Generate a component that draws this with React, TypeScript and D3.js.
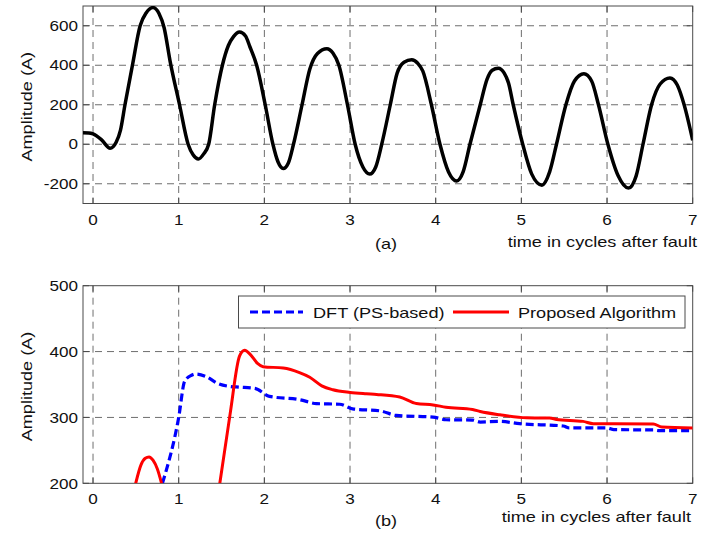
import React from "react";
import * as d3 from "d3";

// ---------- data ----------
const X_TICKS = [0, 1, 2, 3, 4, 5, 6, 7];
const TOP_Y_TICKS = [-200, 0, 200, 400, 600];
const BOT_Y_TICKS = [200, 300, 400, 500];
const X_DOMAIN = [-0.117, 7];
const TOP_Y_DOMAIN = [-300, 700];
const BOT_Y_DOMAIN = [200, 500];

// (a) instantaneous fault current
const WAVE_T = [
  -0.117, -0.05, 0, 0.1, 0.2, 0.27, 0.32, 0.373, 0.46, 0.55, 0.62, 0.7, 0.77, 0.83, 0.9, 1.01,
  1.11, 1.17, 1.23, 1.29, 1.35, 1.42, 1.51, 1.58, 1.64, 1.71, 1.78, 1.83, 1.91, 2.01,
  2.1, 2.16, 2.22, 2.28, 2.34, 2.44, 2.53, 2.62, 2.73, 2.8, 2.87, 2.97,
  3.06, 3.15, 3.23, 3.3, 3.37, 3.47, 3.55, 3.63, 3.72, 3.79, 3.85, 3.95,
  4.05, 4.15, 4.245, 4.32, 4.4, 4.52, 4.6, 4.66, 4.73, 4.8, 4.85, 4.905,
  5.016, 5.12, 5.24, 5.33, 5.41, 5.52, 5.62, 5.73, 5.82, 5.9,
  6.01, 6.13, 6.25, 6.34, 6.42, 6.52, 6.62, 6.735, 6.82, 6.9, 7.0,
];
const WAVE_A = [
  58, 57, 52, 22, -20, 10, 70, 200, 400, 600, 665, 692, 662, 590, 420, 200,
  0, -55, -75, -50, 0, 200, 400, 500, 545, 568, 548, 495, 400, 200,
  0, -90, -123, -95, 0, 200, 380, 460, 484, 462, 400, 200,
  0, -115, -151, -115, 0, 200, 360, 415, 428, 410, 370, 200,
  0, -140, -186, -140, 0, 200, 330, 375, 385, 360, 310, 200,
  0, -150, -207, -140, 0, 200, 320, 357, 320, 200,
  0, -160, -222, -160, 0, 200, 305, 336, 300, 200, 20,
];

// (b) estimated amplitude
const DFT_T = [
  0.81, 1.0, 1.07, 1.15, 1.2, 1.32, 1.45, 1.6, 1.71, 1.89, 2.06, 2.41, 2.61, 2.88, 3.03,
  3.35, 3.54, 3.97, 4.12, 4.43, 4.52, 4.75, 4.98, 5.49, 5.56, 6.0, 6.08, 6.54, 6.6, 7.0,
];
const DFT_A = [
  200, 300, 355, 364, 366, 362, 352, 347, 346, 344, 332, 327, 321, 320, 313,
  310, 303, 300.5, 296.5, 296, 293, 294, 290.5, 287, 284, 284, 281.5, 281, 280, 280,
];

const PROP_T = [
  0.498, 0.56, 0.61, 0.654, 0.7, 0.75, 0.8, null,
  1.48, 1.6, 1.71, 1.77, 1.84, 1.92, 1.985, 2.22, 2.41, 2.53, 2.67, 2.8, 3.0, 3.19, 3.31,
  3.58, 3.775, 3.97, 4.12, 4.43, 4.52, 4.75, 5.06, 5.33, 5.41, 5.72, 5.84, 6.54, 6.64, 7.0,
];
const PROP_A = [
  200, 228, 238, 240, 235, 222, 200, null,
  200, 305, 393, 402, 395, 382, 377, 375, 368, 361, 348, 342, 338, 336, 335,
  331, 321, 319, 315.5, 312, 309, 304, 299.5, 299, 297, 294, 290.5, 290, 285.5, 284,
];

const LEGEND = ["DFT (PS-based)", "Proposed Algorithm"];

// ---------- layout ----------
const W = 720;
const H = 533;
const FONT = "'Liberation Sans', Arial, Helvetica, sans-serif";
const LEFT = 83;
const RIGHT = 692.7;
const TOP_A = { top: 6, bottom: 203.5 };
const TOP_B = { top: 285.7, bottom: 483.3 };

const GRID_COLOR = "#6e6e6e";
const AXIS_COLOR = "#4a4a4a";
const FS = 14.5;
const SX_TICK = 1.18;
const SX_TEXT = 1.25;

function SText({
  x,
  y,
  anchor = "start",
  rotate = 0,
  sx = SX_TEXT,
  baseline,
  children,
}: {
  x: number;
  y: number;
  anchor?: string;
  rotate?: number;
  sx?: number;
  baseline?: string;
  children: React.ReactNode;
}) {
  return (
    <text
      transform={`translate(${x},${y}) rotate(${rotate}) scale(${sx},1)`}
      textAnchor={anchor}
      dominantBaseline={baseline}
      fontFamily={FONT}
      fontSize={FS}
      fill="#111"
    >
      {children}
    </text>
  );
}

function Axes({
  box,
  y,
  yTicks,
  gridY,
  id,
  label,
}: {
  box: { top: number; bottom: number };
  y: d3.ScaleLinear<number, number>;
  yTicks: number[];
  gridY: number[];
  id: string;
  label: string;
}) {
  const x = d3.scaleLinear().domain(X_DOMAIN).range([LEFT, RIGHT]);
  const tl = 6;
  return (
    <g>
      {/* grid */}
      {X_TICKS.filter((t) => x(t) < RIGHT - 1).map((t) => (
        <line
          key={"gx" + t}
          x1={x(t)}
          x2={x(t)}
          y1={box.top}
          y2={box.bottom}
          stroke={GRID_COLOR}
          strokeWidth={1}
          strokeDasharray="7,5"
        />
      ))}
      {gridY.map((v) => (
        <line
          key={"gy" + v}
          x1={LEFT}
          x2={RIGHT}
          y1={y(v)}
          y2={y(v)}
          stroke={GRID_COLOR}
          strokeWidth={1}
          strokeDasharray="7,5"
        />
      ))}
      {/* ticks inside */}
      {X_TICKS.map((t) => (
        <g key={"tx" + t}>
          <line x1={x(t)} x2={x(t)} y1={box.bottom} y2={box.bottom - tl} stroke={AXIS_COLOR} />
          <line x1={x(t)} x2={x(t)} y1={box.top} y2={box.top + tl} stroke={AXIS_COLOR} />
          <SText x={x(t)} y={box.bottom + 21} anchor="middle" sx={SX_TICK}>
            {t}
          </SText>
        </g>
      ))}
      {yTicks.map((v) => (
        <g key={"ty" + v}>
          <line x1={LEFT} x2={LEFT + tl} y1={y(v)} y2={y(v)} stroke={AXIS_COLOR} />
          <line x1={RIGHT} x2={RIGHT - tl} y1={y(v)} y2={y(v)} stroke={AXIS_COLOR} />
          <SText x={LEFT - 5} y={y(v) + 5.2} anchor="end" sx={SX_TICK}>
            {v}
          </SText>
        </g>
      ))}
      <rect
        x={LEFT}
        y={box.top}
        width={RIGHT - LEFT}
        height={box.bottom - box.top}
        fill="none"
        stroke={AXIS_COLOR}
        strokeWidth={1}
      />
      <SText x={32} y={(box.top + box.bottom) / 2 + 2} anchor="middle" rotate={-90}>
        {label}
      </SText>
      <clipPath id={id}>
        <rect x={LEFT} y={box.top} width={RIGHT - LEFT} height={box.bottom - box.top} />
      </clipPath>
    </g>
  );
}

export default function App() {
  const x = d3.scaleLinear().domain(X_DOMAIN).range([LEFT, RIGHT]);
  const yA = d3.scaleLinear().domain(TOP_Y_DOMAIN).range([TOP_A.bottom, TOP_A.top]);
  const yB = d3.scaleLinear().domain(BOT_Y_DOMAIN).range([TOP_B.bottom, TOP_B.top]);

  const waveLine = d3
    .line<number>()
    .x((_, i) => x(WAVE_T[i]))
    .y((d) => yA(d))
    .curve(d3.curveMonotoneX);

  const dftLine = d3
    .line<number>()
    .x((_, i) => x(DFT_T[i]))
    .y((d) => yB(d))
    .curve(d3.curveMonotoneX);

  const propLine = d3
    .line<number | null>()
    .defined((d) => d !== null)
    .x((_, i) => x(PROP_T[i] as number))
    .y((d) => yB(d as number))
    .curve(d3.curveMonotoneX);

  const legend = { x: 238.5, y: 296, w: 446.5, h: 32 };
  const ly = legend.y + legend.h / 2;

  return (
    <svg
      width={W}
      height={H}
      style={{ position: "absolute", left: 0, top: 0, background: "#fff" }}
    >
      <rect width={W} height={H} fill="#fff" />
      <Axes
        box={TOP_A}
        y={yA}
        yTicks={TOP_Y_TICKS}
        gridY={TOP_Y_TICKS}
        id="clipA"
        label="Amplitude (A)"
      />
      <path
        d={waveLine(WAVE_A) || ""}
        fill="none"
        stroke="#000"
        strokeWidth={3.5}
        strokeLinejoin="round"
        clipPath="url(#clipA)"
      />
      <SText x={386} y={249} anchor="middle">
        (a)
      </SText>
      <SText x={697} y={247} anchor="end">
        time in cycles after fault
      </SText>

      <Axes
        box={TOP_B}
        y={yB}
        yTicks={BOT_Y_TICKS}
        gridY={[300, 400]}
        id="clipB"
        label="Amplitude (A)"
      />
      <path
        d={dftLine(DFT_A) || ""}
        fill="none"
        stroke="#0000ff"
        strokeWidth={3.2}
        strokeDasharray="8,4"
        clipPath="url(#clipB)"
      />
      <path
        d={propLine(PROP_A) || ""}
        fill="none"
        stroke="#ff0000"
        strokeWidth={3}
        strokeLinejoin="round"
        clipPath="url(#clipB)"
      />
      {/* legend */}
      <rect
        x={legend.x}
        y={legend.y}
        width={legend.w}
        height={legend.h}
        fill="#fff"
        stroke={AXIS_COLOR}
        strokeWidth={1}
      />
      <line
        x1={250}
        x2={303}
        y1={ly}
        y2={ly}
        stroke="#0000ff"
        strokeWidth={3.2}
        strokeDasharray="8,4"
      />
      <SText x={313} y={ly + 5.5}>
        {LEGEND[0]}
      </SText>
      <line x1={453} x2={509} y1={ly} y2={ly} stroke="#ff0000" strokeWidth={3} />
      <SText x={518} y={ly + 5.5}>
        {LEGEND[1]}
      </SText>

      <SText x={386} y={526} anchor="middle">
        (b)
      </SText>
      <SText x={691} y={522} anchor="end">
        time in cycles after fault
      </SText>
    </svg>
  );
}
